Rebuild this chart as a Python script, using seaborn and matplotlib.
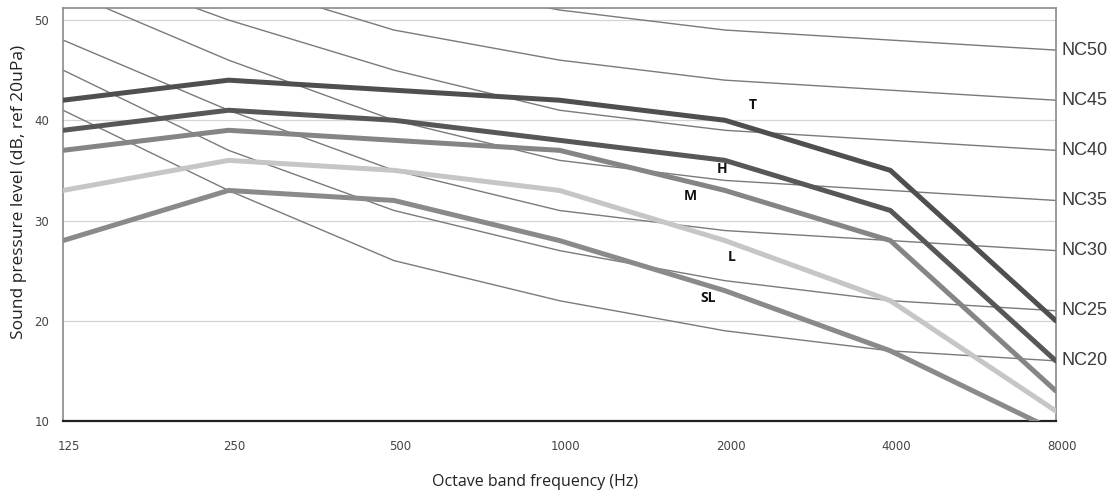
"""
NC curves with measured room noise spectra
"""
import matplotlib
matplotlib.use("Agg")
import matplotlib.pyplot as plt
import matplotlib.transforms as mtransforms
import seaborn as sns
import pandas as pd

# octave bands shown on the x axis
bands = ["125", "250", "500", "1000", "2000", "4000", "8000"]

# noise criterion reference curves (dB)
nc_names = ["NC20", "NC25", "NC30", "NC35", "NC40", "NC45", "NC50"]
nc20 = [41, 33, 26, 22, 19, 17, 16]
nc25 = [45, 37, 31, 27, 24, 22, 21]
nc30 = [48, 41, 35, 31, 29, 28, 27]
nc35 = [53, 46, 40, 36, 34, 33, 32]
nc40 = [56, 50, 45, 41, 39, 38, 37]
nc45 = [60, 54, 49, 46, 44, 43, 42]
nc50 = [64, 58, 54, 51, 49, 48, 47]
nc_curves = [nc20, nc25, nc30, nc35, nc40, nc45, nc50]

# measured spectra
spec_names = ["SL", "L", "M", "H", "T"]
sl = [28, 33, 32, 28, 23, 17, 9]
low = [33, 36, 35, 33, 28, 22, 11]
med = [37, 39, 38, 37, 33, 28, 13]
high = [39, 41, 40, 38, 36, 31, 16]
top = [42, 44, 43, 42, 40, 35, 20]
spectra = [sl, low, med, high, top]
spec_colors = ["#8a8a8a", "#c6c6c6", "#858585", "#575757", "#4f4f4f"]

sns.set_style("white")

fig = plt.figure(figsize=(11.18, 4.96), dpi=100)
ax = fig.add_axes([0.0564, 0.1512, 0.888, 0.8327])

xs = list(range(len(bands)))

# thin NC reference lines
for name, vals in zip(nc_names, nc_curves):
    df = pd.DataFrame({"band": xs, "level": vals})
    sns.lineplot(data=df, x="band", y="level", ax=ax, color="#7a7a7a",
                 linewidth=1.0, zorder=2)
    ax.text(1.006, (vals[-1] - 10) / (51.2 - 10), name, transform=ax.transAxes,
            ha="left", va="center", fontsize=13, color="#3a3a3a",
            family="Liberation Sans")

# thick measured lines
for name, vals, col in zip(spec_names, spectra, spec_colors):
    df = pd.DataFrame({"band": xs, "level": vals})
    sns.lineplot(data=df, x="band", y="level", ax=ax, color=col,
                 linewidth=3.6, zorder=3)

# curve labels
label_pos = {"T": (4.17, 41.5), "H": (3.98, 35.1), "M": (3.79, 32.4),
             "L": (4.04, 26.4), "SL": (3.90, 22.3)}
for name, (lx, ly) in label_pos.items():
    ax.text(lx, ly, name, ha="center", va="center", fontsize=10,
            fontweight="bold", color="#111111", family="Open Sans")

ax.set_xlim(0, len(bands) - 1)
ax.set_ylim(10, 51.2)
ax.set_xticks(xs)
ax.set_xticklabels(bands)
ax.set_yticks([10, 20, 30, 40, 50])
ax.grid(axis="y", color="#d4d4d4", linewidth=0.9)
ax.tick_params(axis="y", direction="out", length=6, width=0.8, color="#888888",
               labelsize=8.5, labelcolor="#444444", pad=4)
ax.tick_params(axis="x", length=0, labelsize=8.5, labelcolor="#444444", pad=14)
# labels sit a little right of the category points, like the original
shift = mtransforms.ScaledTranslation(6 / 100, 0, fig.dpi_scale_trans)
for lbl in ax.get_xticklabels():
    lbl.set_transform(lbl.get_transform() + shift)

for side in ["top", "right", "left"]:
    ax.spines[side].set_color("#8a8a8a")
    ax.spines[side].set_linewidth(1.2)
ax.spines["bottom"].set_color("#222222")
ax.spines["bottom"].set_linewidth(1.6)

ax.set_xlabel("Octave band frequency (Hz)", fontsize=11.5, color="#222222",
              family="Open Sans")
ax.set_ylabel("Sound pressure level (dB, ref 20uPa)", fontsize=12.5,
              color="#222222", family="Open Sans")
ax.xaxis.set_label_coords(0.475, -0.128)
ax.yaxis.set_label_coords(-0.036, 0.554)

fig.savefig("out.png", dpi=100)
